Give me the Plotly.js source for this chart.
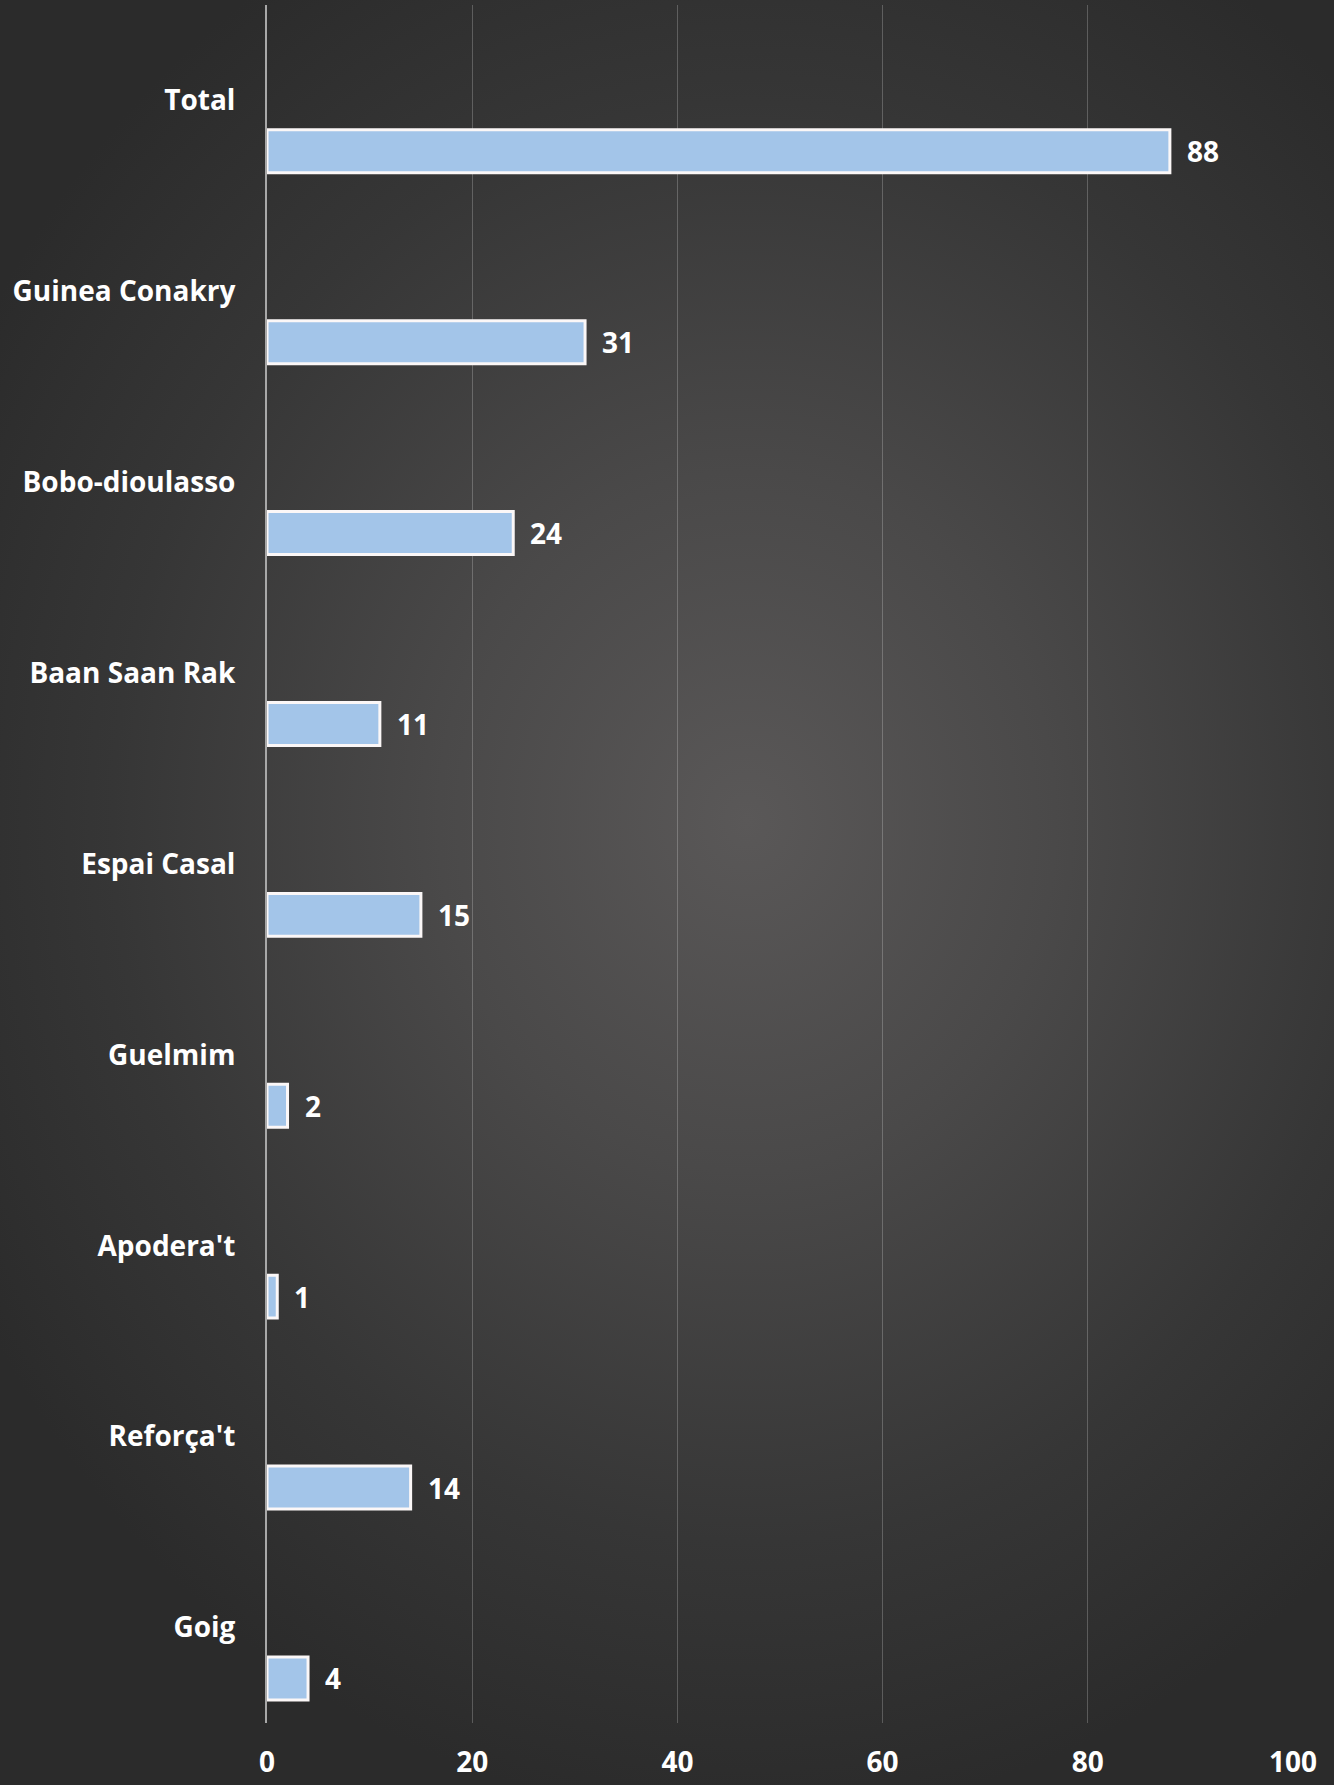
<!DOCTYPE html>
<html>
<head>
<meta charset="utf-8">
<script src="https://cdn.plot.ly/plotly-3.0.1.min.js"></script>
<style>
  html, body { margin: 0; padding: 0; }
  body {
    width: 1334px; height: 1785px; overflow: hidden;
    background: radial-gradient(ellipse 66% 56% at 56% 46%, #5a5858 0%, #4a4949 35%, #363636 72%, #2b2b2b 100%);
  }
  #chart { width: 1334px; height: 1785px; }
</style>
</head>
<body>
<div id="chart"></div>
<script>
const categories = ["Total", "Guinea Conakry", "Bobo-dioulasso", "Baan Saan Rak", "Espai Casal", "Guelmim", "Apodera't", "Reforça't", "Goig"];
const values = [88, 31, 24, 11, 15, 2, 1, 14, 4];
const xTicks = [0, 20, 40, 60, 80, 100];

const fontFamily = "'Open Sans', Lato, sans-serif";
const fontSize = 28;
const barOffset = 0.154;
const barWidth = 0.225;

const trace = {
  type: 'bar',
  orientation: 'h',
  x: values,
  y: categories,
  offset: barOffset,
  width: barWidth,
  marker: { color: '#a3c5e9', line: { color: '#fbf7f7', width: 3 } },
  hoverinfo: 'none',
  cliponaxis: false
};

const annotations = values.map((v, i) => ({
  x: v,
  y: i + barOffset + barWidth / 2,
  xref: 'x', yref: 'y',
  text: String(v),
  showarrow: false,
  xanchor: 'left',
  yanchor: 'middle',
  xshift: 15,
  font: { family: fontFamily, size: fontSize, color: '#ffffff', weight: 'bold' }
}));

const layout = {
  width: 1334,
  height: 1785,
  margin: { l: 267, r: 41, t: 5, b: 62 },
  paper_bgcolor: 'rgba(0,0,0,0)',
  plot_bgcolor: 'rgba(0,0,0,0)',
  showlegend: false,
  xaxis: {
    range: [0, 100],
    tickvals: xTicks,
    ticktext: xTicks.map(String),
    showgrid: true,
    gridcolor: 'rgba(255,255,255,0.22)',
    gridwidth: 1,
    zeroline: false,
    showline: false,
    ticks: '',
    ticklabelstandoff: 20,
    tickfont: { family: fontFamily, size: fontSize, color: '#ffffff', weight: 'bold' },
    fixedrange: true
  },
  yaxis: {
    type: 'category',
    categoryorder: 'array',
    categoryarray: categories,
    range: [categories.length - 0.5, -0.5],
    showgrid: false,
    zeroline: false,
    showline: true,
    linecolor: '#a8a8a8',
    linewidth: 2,
    ticks: '',
    ticklabelstandoff: 24,
    tickfont: { family: fontFamily, size: fontSize, color: '#ffffff', weight: 'bold' },
    fixedrange: true
  },
  annotations: annotations
};

Plotly.newPlot('chart', [trace], layout, { displayModeBar: false, staticPlot: true });
</script>
</body>
</html>
